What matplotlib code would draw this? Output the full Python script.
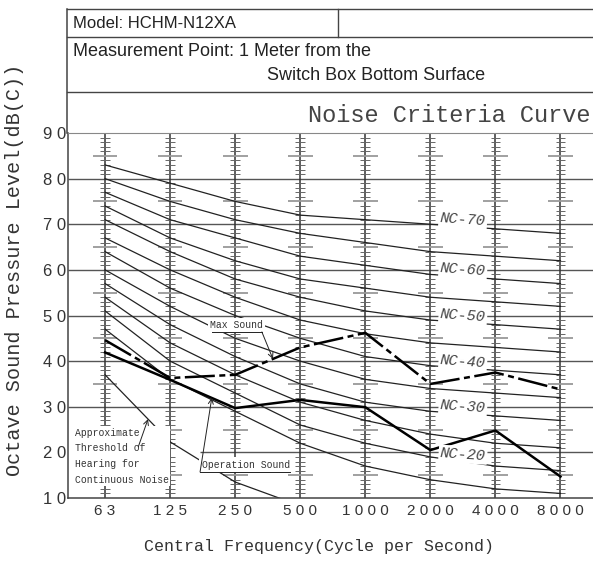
import numpy as np
import matplotlib
matplotlib.use('Agg')
import matplotlib.pyplot as plt
from matplotlib.lines import Line2D

# octave band centre frequencies
freqs = ['63', '125', '250', '500', '1000', '2000', '4000', '8000']

# NC curves (dB per octave band)
nc_levels = [15, 20, 25, 30, 35, 40, 45, 50, 55, 60, 65, 70]
nc_values = [
    [47, 36, 29, 22, 17, 14, 12, 11],
    [51, 40, 33, 26, 22, 19, 17, 16],
    [54, 44, 37, 31, 27, 24, 22, 21],
    [57, 48, 41, 35, 31, 29, 28, 27],
    [60, 52, 45, 40, 36, 34, 33, 32],
    [64, 56, 50, 45, 41, 39, 38, 37],
    [67, 60, 54, 49, 46, 44, 43, 42],
    [71, 64, 58, 54, 51, 49, 48, 47],
    [74, 67, 62, 58, 56, 54, 53, 52],
    [77, 71, 67, 63, 61, 59, 58, 57],
    [80, 75, 71, 68, 66, 64, 63, 62],
    [83, 79, 75, 72, 71, 70, 69, 68],
]
nc_labelled = [20, 30, 40, 50, 60, 70]

# measured levels
max_sound = [44.6, 36.3, 37.0, 43.0, 46.2, 35.0, 37.5, 33.8]
operation_sound = [41.9, 35.9, 29.7, 31.5, 29.9, 20.5, 24.8, 14.7]

# approximate threshold of hearing (63..500 Hz)
threshold = [37.0, 22.3, 13.5, 8.3]

MONO = 'Liberation Mono'
SANS = 'Liberation Sans'
TXT = '#333333'
W, H = 593, 561

def fx(px):
    return px / W

def fy(py):
    return 1 - py / H

fig = plt.figure(figsize=(W / 100, H / 100), dpi=100)
ax = fig.add_axes([fx(68), fy(498), 1 - fx(68), fy(133) - fy(498)])

pos = np.arange(len(freqs))
ax.set_xlim(-0.57, 7.5)
ax.set_ylim(10, 90)

# horizontal grid, the 20 dB line starts right of the threshold note
for v in range(20, 90, 10):
    x0 = 1.46 if v == 20 else -0.57
    ax.hlines(v, x0, 7.5, color='#555555', lw=1.0, zorder=1)

# ladder scales on every frequency column
minor = [v for v in range(11, 90) if v % 5]
mid = list(range(15, 90, 10))
for i in pos:
    ax.vlines(i, 10, 90, color='#333333', lw=1.1, zorder=1)
    ax.hlines(minor, i - 0.075, i + 0.075, color='#666666', lw=0.7, zorder=1)
    ax.hlines(mid, i - 0.19, i + 0.19, color='#999999', lw=1.3, zorder=1)

# NC curves
for lvl, vals in zip(nc_levels, nc_values):
    ax.plot(pos, vals, color='#222222', lw=0.9, zorder=2)
    if lvl in nc_labelled:
        yv = np.interp(5.5, pos, vals) + 1.5
        ax.text(5.5, yv, 'NC-%d' % lvl, family=MONO, style='italic',
                fontsize=11, ha='center', va='center', rotation=-4,
                color='#444444', zorder=6,
                bbox=dict(boxstyle='square,pad=0.1', fc='white', ec='none'))

# threshold of hearing
ax.plot(pos[:len(threshold)], threshold, color='#222222', lw=0.9, zorder=2)

# measured curves
ax.plot(pos, operation_sound, color='black', lw=1.8, zorder=3)
ax.plot(pos, max_sound, color='black', lw=1.8, zorder=3,
        dashes=(12, 1.8, 2.4, 1.8))

note = dict(family=MONO, fontsize=7, color=TXT, zorder=6)
arrow = dict(arrowstyle='->', lw=0.7, color='#222222', mutation_scale=9,
             shrinkA=0, shrinkB=0)

# Max Sound note
ax.text(2.02, 47.9, 'Max Sound', ha='center', va='center',
        bbox=dict(boxstyle='square,pad=0.25', fc='white', ec='none'), **note)
ax.plot([1.64, 2.41], [46.4, 46.4], color='#222222', lw=0.7, zorder=7)
ax.annotate('', xy=(2.58, np.interp(2.58, pos, max_sound)), xytext=(2.41, 46.4),
            arrowprops=arrow, zorder=7)

# Operation Sound note
ax.text(2.16, 17.3, 'Operation Sound', ha='center', va='center',
        bbox=dict(boxstyle='square,pad=0.25', fc='white', ec='none'), **note)
ax.plot([1.46, 2.84], [15.7, 15.7], color='#222222', lw=0.7, zorder=7)
ax.annotate('', xy=(1.64, np.interp(1.64, pos, operation_sound)),
            xytext=(1.46, 15.7), arrowprops=arrow, zorder=7)

# threshold note
ax.text(-0.47, 25.4, 'Approximate\nThreshold of\nHearing for\nContinuous Noise',
        ha='left', va='top', linespacing=1.7,
        bbox=dict(boxstyle='square,pad=0.2', fc='white', ec='none'), **note)
ax.annotate('', xy=(0.66, np.interp(0.66, pos[:4], threshold)),
            xytext=(0.51, 21.2), arrowprops=arrow, zorder=7)

# axes frame and ticks
ax.spines['right'].set_visible(False)
ax.spines['top'].set_color('#888888')
for s in ['left', 'bottom']:
    ax.spines[s].set_color('#444444')
    ax.spines[s].set_linewidth(1.1)
ax.set_xticks(pos)
ax.set_xticklabels([' '.join(f) for f in freqs], family=SANS, fontsize=11,
                   color=TXT)
ax.set_yticks(range(10, 100, 10))
ax.set_yticklabels([' '.join(str(v)) for v in range(10, 100, 10)],
                   family=SANS, fontsize=12, color=TXT)
ax.tick_params(axis='both', length=0)
ax.tick_params(axis='x', pad=4)
ax.tick_params(axis='y', pad=1)

fig.text(fx(319), fy(546), 'Central Frequency(Cycle per Second)', family=MONO,
         fontsize=12, ha='center', va='center', color=TXT)
fig.text(fx(15), fy(270), 'Octave Sound Pressure Level(dB(C))', family=MONO,
         fontsize=14.5, ha='center', va='center', rotation=90, color=TXT)

# header box
hc = '#444444'
fig.add_artist(Line2D([fx(67), 1], [fy(9), fy(9)], color=hc, lw=1.0))
fig.add_artist(Line2D([fx(67), 1], [fy(37), fy(37)], color=hc, lw=1.0))
fig.add_artist(Line2D([fx(67), 1], [fy(92), fy(92)], color=hc, lw=1.0))
fig.add_artist(Line2D([fx(67), fx(67)], [fy(9), fy(133)], color=hc, lw=1.1))
fig.add_artist(Line2D([fx(338), fx(338)], [fy(9), fy(37)], color=hc, lw=1.0))

fig.text(fx(73), fy(24), 'Model: HCHM-N12XA', family=SANS, fontsize=12,
         ha='left', va='center', color='#222222')
fig.text(fx(73), fy(51), 'Measurement Point: 1 Meter from the', family=SANS,
         fontsize=13, ha='left', va='center', color='#222222')
fig.text(fx(267), fy(76), 'Switch Box Bottom Surface', family=SANS,
         fontsize=13, ha='left', va='center', color='#222222')
fig.text(fx(591), fy(115), 'Noise Criteria Curve', family=MONO, fontsize=17,
         ha='right', va='center', color='#444444')

fig.savefig('out.png', dpi=100)
